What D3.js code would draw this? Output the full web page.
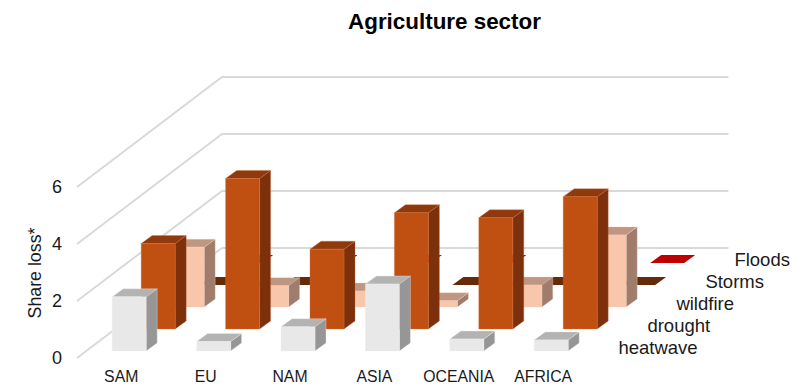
<!DOCTYPE html>
<html>
<head>
<meta charset="utf-8">
<script src="https://cdn.jsdelivr.net/npm/d3@7"></script>
<style>
html,body{margin:0;padding:0;background:#fff;}
svg{display:block;}
text{font-family:"Liberation Sans",Arial,sans-serif;fill:#1a1a1a;}
</style>
</head>
<body>
<svg id="chart" width="797" height="384"></svg>
<script>
const categories = ["SAM","EU","NAM","ASIA","OCEANIA","AFRICA"];
const seriesNames = ["heatwave","drought","wildfire","Storms","Floods"];
const heatwave = [1.9,0.33,0.85,2.35,0.42,0.39];
const drought = [3.0,5.28,2.8,4.08,3.9,4.64];
const wildfire = [2.1,0.75,0.56,0.22,0.77,2.53];
const storms = [0,0,0,0,0,0];
const floods = [0,0,0,0,0,0];
const seriesValues = [heatwave,drought,wildfire,storms,floods];
const yTicks = [0,2,4,6];
const palette = [
  {front:"#e8e8e8",top:"#b3b3b3",side:"#969696",edge:"#eeeeee"},
  {front:"#c05012",top:"#8f390d",side:"#7c300b",edge:"#d2703c"},
  {front:"#f7c6ab",top:"#bf9681",side:"#9f7c6b",edge:"#f7cdb6"},
  {front:"#652a07",top:"#652a07",side:"#652a07",edge:"none"},
  {front:"#c00000",top:"#c00000",side:"#c00000",edge:"none"}
];

const originX = 77, originY = 358;
const x = d3.scaleBand().domain(categories).range([0,506.4]).paddingInner(50.4/84.4).paddingOuter(25.2/84.4);
const y = d3.scaleLinear().domain([0,6]).range([0,-171]);
const rowIndex = d3.scaleOrdinal().domain(seriesNames).range(d3.range(seriesNames.length));
const depthX = d3.scaleLinear().domain([0,5]).range([0,145]);
const depthY = d3.scaleLinear().domain([0,5]).range([0,-110]);
const barDX = 11, barDY = -8;
const baseInset = -7;
const sideInset = 10;

const svg = d3.select("#chart");
const line = d3.line();

// grid
const grid = svg.append("g").attr("fill","none").attr("stroke","#d9d9d9").attr("stroke-width",2);
grid.selectAll("path").data(yTicks).join("path")
  .attr("d",t=>line([
    [originX,originY+y(t)],
    [originX+depthX(5),originY+y(t)+depthY(5)],
    [originX+506.4+depthX(5),originY+y(t)+depthY(5)]
  ]));

// bars, back row first
const rows = seriesNames.map((name,r)=>({name,r})).reverse();
rows.forEach(({name,r})=>{
  const colors = palette[r];
  const g = svg.append("g").attr("class","series-"+name);
  categories.forEach((cat,i)=>{
    const v = seriesValues[r][i];
    const x0 = originX + x(cat) + depthX(r) + sideInset;
    const x1 = x0 + x.bandwidth();
    const base = originY + depthY(r) + baseInset;
    const top = base + y(v);
    const faces = [
      {fill:colors.side,pts:[[x1,base],[x1+barDX,base+barDY],[x1+barDX,top+barDY],[x1,top]]},
      {fill:colors.top,pts:[[x0,top],[x0+barDX,top+barDY],[x1+barDX,top+barDY],[x1,top]]},
      {fill:colors.front,pts:[[x0,base],[x1,base],[x1,top],[x0,top]]}
    ];
    g.selectAll(null).data(faces).join("path")
      .attr("d",f=>line(f.pts)+"Z")
      .attr("fill",f=>f.fill)
      .attr("stroke",colors.edge)
      .attr("stroke-width",0.5)
      .attr("stroke-opacity",0.7);
  });
});

// value axis
const yAxis = d3.axisLeft(d3.scaleLinear().domain([0,6]).range([originY,originY-171]))
  .tickValues(yTicks).tickFormat(d3.format("d")).tickSize(0).tickPadding(0);
const ya = svg.append("g").attr("transform","translate(62,0)").call(yAxis);
ya.select(".domain").remove();
ya.selectAll("text").attr("font-size",18).attr("font-family",null);

// category axis
const xAxis = d3.axisBottom(d3.scaleBand().domain(categories).range([originX,originX+506.4])).tickSize(0).tickPadding(0);
const xa = svg.append("g").attr("transform","translate(2,371)").call(xAxis);
xa.select(".domain").remove();
xa.selectAll("text").attr("font-size",15.8).attr("font-family",null);

// series labels
svg.append("g").selectAll("text").data(seriesNames).join("text")
  .attr("x",s=>originX+506.4+35+depthX(rowIndex(s)))
  .attr("y",s=>348+depthY(rowIndex(s)))
  .attr("dy","0.35em")
  .attr("font-size",18.5)
  .text(s=>s);

svg.append("text").attr("transform","translate(41,273) rotate(-90)")
  .attr("text-anchor","middle").attr("font-size",17.8).text("Share loss*");

svg.append("text").attr("x",444.5).attr("y",29).attr("text-anchor","middle")
  .attr("font-size",22.4).attr("font-weight","bold").style("fill","#000").text("Agriculture sector");
</script>
</body>
</html>
